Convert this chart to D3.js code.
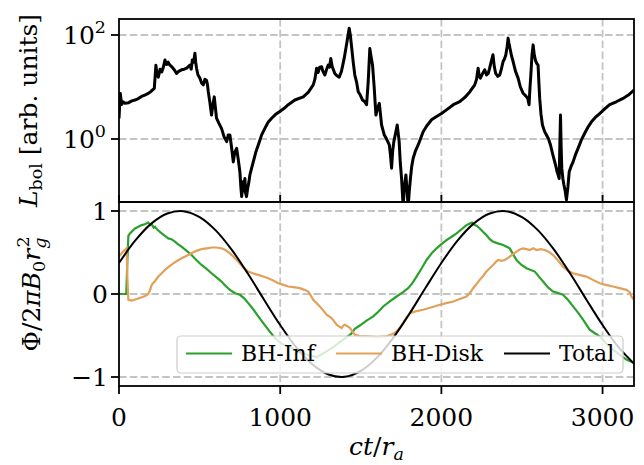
<!DOCTYPE html>
<html><head><meta charset="utf-8">
<script src="https://cdn.jsdelivr.net/npm/d3@7"></script>
<style>body{margin:0;background:#fff} svg text{font-family:"DejaVu Serif",serif;fill:#000}</style>
</head><body><svg id="c" width="644" height="465"></svg>
<script>
// ---- data ----
const lbolT = [0,8,16,25,37,60,80,99,120,140,160,182,200,219,229,236,244,255,265,275,285,295,305,316,330,345,357,370,388,405,420,440,448,455,463,471,476,481,490,502,512,523,533,543,549,554,564,574,582,591,598,605,620,636,652,668,678,688,698,709,718,730,740,750,756,761,770,776,781,786,791,800,806,812,822,833,848,864,885,905,925,947,970,998,1025,1050,1091,1143,1175,1205,1215,1226,1235,1245,1257,1265,1277,1288,1298,1306,1314,1322,1339,1352,1366,1380,1397,1416,1428,1435,1443,1453,1463,1475,1484,1497,1511,1525,1536,1546,1556,1563,1573,1583,1594,1605,1615,1622,1629,1646,1660,1677,1684,1691,1698,1705,1716,1726,1732,1738,1745,1753,1763,1770,1780,1788,1794,1801,1808,1816,1825,1840,1856,1870,1887,1910,1939,1970,2001,2040,2074,2114,2150,2177,2207,2218,2228,2235,2242,2255,2269,2280,2290,2298,2306,2320,2328,2337,2350,2362,2372,2383,2392,2400,2408,2414,2419,2424,2435,2445,2460,2476,2490,2507,2518,2528,2536,2544,2550,2555,2562,2569,2577,2586,2593,2600,2605,2610,2618,2627,2640,2652,2665,2677,2688,2697,2708,2718,2725,2731,2735,2739,2743,2747,2754,2760,2768,2776,2785,2793,2805,2817,2832,2848,2868,2889,2910,2931,2955,2982,3010,3044,3085,3127,3160,3195];
const lbolV = [2.5,7.5,4.6,5.2,4.85,5.0,5.4,5.62,6.0,6.6,7.0,7.55,8.3,9.44,26.3,17,15.5,22,19.5,24,33.1,27,30,26.3,24,21,18.2,20,21.4,22,23,26.3,22,33.1,30,44.7,30,22.9,17,14.8,12,11.0,14,13.5,11,8.13,5,2.88,4.5,6.46,4,2.51,2.0,1.60,1.1,0.89,1.2,1.19,0.7,0.363,0.55,0.66,0.4,0.234,0.12,0.078,0.15,0.1,0.174,0.09,0.078,0.12,0.15,0.204,0.27,0.363,0.55,0.767,1.2,1.60,2.1,2.51,2.95,3.39,3.9,4.57,5.62,6.46,8,11.0,14,22.9,19,24,24.5,20,17.0,22,26.3,24,35.5,25,18.2,16.5,15.5,20,35.5,79.4,135,100,58.9,30,17.0,12,8.13,7,5.62,5.2,4.57,12.6,55.0,40,26.3,10,2.88,4,4.85,3,1.86,1.19,1.0,0.767,0.5,0.275,0.6,0.89,1.3,1.86,1.3,0.89,0.35,0.174,0.05,0.12,0.204,0.09,0.05,0.1,0.174,0.3,0.427,0.6,0.767,1.0,1.38,1.8,2.34,2.7,3.09,3.8,4.57,5.25,6.5,8.13,11.0,14,22.9,16,14.8,18,21.4,17,18.2,22,28.2,41.7,25,18.2,16,17.0,22,30.9,35,41.7,60,87.1,70,58.9,40,30.9,20,14.8,10,7.59,7,6.46,6,4.57,10,17,40,64.6,40,30.9,28,26.3,12,6.03,3,1.86,1.4,1.19,1.0,0.767,0.55,0.427,0.32,0.234,0.2,0.174,0.8,2.88,0.7,0.275,0.17,0.132,0.1,0.068,0.12,0.234,0.3,0.363,0.5,0.66,0.95,1.29,1.7,2.14,2.6,3.09,3.7,4.57,5.2,6.03,7.0,8.71];

const infT = [0,45,52,58,68,99,141,160,182,195,203,215,223,240,265,285,306,325,347,365,388,420,450,480,512,545,574,605,636,660,688,720,750,775,802,835,864,895,926,967,1010,1060,1120,1180,1226,1280,1329,1370,1412,1440,1463,1494,1536,1577,1610,1639,1680,1722,1760,1794,1820,1846,1878,1908,1940,1970,2000,2032,2064,2094,2125,2156,2176,2190,2207,2220,2238,2258,2279,2300,2321,2350,2383,2405,2424,2445,2466,2497,2528,2555,2580,2605,2631,2662,2693,2725,2755,2785,2817,2850,2879,2920,2950,2982,3020,3065,3105,3148,3195];
const infV = [0,0,0.4,0.70,0.73,0.79,0.83,0.84,0.86,0.83,0.84,0.80,0.81,0.77,0.73,0.70,0.67,0.66,0.63,0.60,0.57,0.52,0.47,0.41,0.35,0.30,0.25,0.20,0.15,0.10,0.05,0.01,-0.01,-0.05,-0.11,-0.19,-0.27,-0.35,-0.43,-0.53,-0.60,-0.64,-0.70,-0.74,-0.76,-0.70,-0.64,-0.58,-0.52,-0.48,-0.42,-0.38,-0.32,-0.27,-0.21,-0.15,-0.09,-0.03,0.02,0.07,0.13,0.21,0.31,0.41,0.49,0.55,0.60,0.65,0.69,0.73,0.78,0.83,0.85,0.86,0.83,0.82,0.79,0.75,0.71,0.66,0.63,0.61,0.59,0.57,0.55,0.48,0.41,0.35,0.31,0.29,0.27,0.21,0.15,0.08,0.03,0.01,-0.01,-0.07,-0.15,-0.23,-0.31,-0.43,-0.47,-0.51,-0.59,-0.67,-0.73,-0.79,-0.83];

const diskT = [0,20,47,52,58,79,110,141,165,182,195,203,225,244,265,285,310,337,362,388,420,450,480,512,545,574,605,636,660,688,715,740,770,802,830,864,895,926,960,988,1020,1050,1091,1122,1150,1174,1190,1205,1226,1246,1268,1288,1319,1335,1350,1365,1381,1392,1402,1418,1433,1448,1463,1500,1536,1600,1660,1700,1722,1745,1763,1785,1804,1840,1887,1940,1991,2030,2074,2114,2156,2180,2197,2218,2238,2260,2279,2300,2321,2340,2352,2372,2393,2410,2424,2445,2466,2490,2507,2528,2548,2570,2590,2615,2641,2665,2693,2725,2755,2785,2817,2855,2899,2940,2982,3020,3065,3105,3148,3170,3179,3195];
const diskV = [0.45,0.50,0.55,0.2,-0.07,-0.08,-0.06,-0.04,-0.02,0.00,0.06,0.11,0.16,0.21,0.25,0.29,0.33,0.37,0.40,0.43,0.46,0.49,0.52,0.54,0.55,0.56,0.56,0.55,0.53,0.49,0.44,0.39,0.32,0.27,0.25,0.23,0.21,0.19,0.16,0.13,0.11,0.09,0.08,0.07,0.05,0.03,-0.02,-0.07,-0.11,-0.15,-0.20,-0.25,-0.29,-0.33,-0.37,-0.39,-0.41,-0.38,-0.37,-0.39,-0.41,-0.45,-0.49,-0.51,-0.51,-0.52,-0.51,-0.48,-0.45,-0.40,-0.35,-0.28,-0.23,-0.21,-0.19,-0.16,-0.13,-0.11,-0.09,-0.06,-0.03,0.02,0.07,0.12,0.17,0.22,0.27,0.31,0.35,0.39,0.41,0.40,0.41,0.43,0.45,0.48,0.51,0.54,0.55,0.54,0.53,0.55,0.53,0.54,0.53,0.51,0.47,0.40,0.33,0.28,0.25,0.23,0.21,0.17,0.13,0.11,0.09,0.07,0.05,0.02,-0.03,-0.07];

const totalT = [0,100,200,300,400,500,600,700,800,900,1000,1100,1200,1300,1400,1500,1600,1700,1800,1900,2000,2100,2200,2300,2400,2500,2600,2700,2800,2900,3000,3100,3200];
const totalV = [0.373,0.642,0.848,0.970,0.998,0.927,0.767,0.531,0.243,-0.069,-0.374,-0.643,-0.848,-0.970,-0.998,-0.927,-0.767,-0.531,-0.243,0.069,0.374,0.643,0.848,0.970,0.998,0.927,0.767,0.531,0.243,-0.069,-0.374,-0.643,-0.848];

const xTicks = [0,1000,2000,3000];
const topTicks = [{v:1,e:"0"},{v:100,e:"2"}];
const botTicks = [-1,0,1];
const botTickLabels = ["\u22121","0","1"];
const seriesNames = ["BH-Inf","BH-Disk","Total"];
const seriesColors = ["#2ca02c","#e2a05b","#000000"];

// ---- layout ----
const L=119,R=634,T1=19,B1=202,T2=202,B2=386;
const svg = d3.select("#c");
const x = d3.scaleLinear().domain([0,3195]).range([L,R]);
const yTop = d3.scaleLog().domain([Math.pow(10,-1.2115),Math.pow(10,2.3077)]).range([B1,T1]);
const yBot = d3.scaleLinear().domain([-1.1084,1.1084]).range([B2,T2]);

const defs = svg.append("defs");
defs.append("clipPath").attr("id","c1").append("rect").attr("x",L).attr("y",T1).attr("width",R-L).attr("height",B1-T1);
defs.append("clipPath").attr("id","c2").append("rect").attr("x",L).attr("y",T2).attr("width",R-L).attr("height",B2-T2);

const gridStyle = g => g.attr("stroke","#c4c4c4").attr("stroke-width",1.8).attr("stroke-dasharray","7.5,3.3").attr("fill","none");
// grids
const gg = svg.append("g");
xTicks.slice(1).forEach(t=>{
  gg.append("line").attr("x1",x(t)).attr("x2",x(t)).attr("y1",T1).attr("y2",B1).call(gridStyle);
  gg.append("line").attr("x1",x(t)).attr("x2",x(t)).attr("y1",T2).attr("y2",B2).call(gridStyle);
});
topTicks.forEach(d=>gg.append("line").attr("x1",L).attr("x2",R).attr("y1",yTop(d.v)).attr("y2",yTop(d.v)).call(gridStyle));
botTicks.forEach(v=>gg.append("line").attr("x1",L).attr("x2",R).attr("y1",yBot(v)).attr("y2",yBot(v)).call(gridStyle));

// top line
const topLine = d3.line().x((d,i)=>x(lbolT[i])).y(d=>yTop(d));
svg.append("path").attr("clip-path","url(#c1)").attr("d",topLine(lbolV))
  .attr("fill","none").attr("stroke","#000").attr("stroke-width",3).attr("stroke-linejoin","round");

// bottom lines
function mk(ts,vs,curve){return d3.line().curve(curve).x((d,i)=>x(ts[i])).y(d=>yBot(d))(vs);}
const g2 = svg.append("g").attr("clip-path","url(#c2)");
g2.append("path").attr("d",mk(infT,infV,d3.curveLinear)).attr("fill","none").attr("stroke",seriesColors[0]).attr("stroke-width",2.2);
g2.append("path").attr("d",mk(diskT,diskV,d3.curveLinear)).attr("fill","none").attr("stroke",seriesColors[1]).attr("stroke-width",2.2);
g2.append("path").attr("d",mk(totalT,totalV,d3.curveCatmullRom)).attr("fill","none").attr("stroke",seriesColors[2]).attr("stroke-width",2);

// spines
svg.append("rect").attr("x",L).attr("y",T1).attr("width",R-L).attr("height",B1-T1).attr("fill","none").attr("stroke","#000").attr("stroke-width",1.8);
svg.append("rect").attr("x",L).attr("y",T2).attr("width",R-L).attr("height",B2-T2).attr("fill","none").attr("stroke","#000").attr("stroke-width",1.8);

// ticks
const tk = svg.append("g").attr("stroke","#000").attr("stroke-width",1.8);
const FS = 25;
topTicks.forEach(d=>{
  const yy=yTop(d.v);
  tk.append("line").attr("x1",L-8).attr("x2",L).attr("y1",yy).attr("y2",yy);
  const t = svg.append("text").attr("x",L-13).attr("y",yy+9).attr("text-anchor","end").attr("font-size",FS);
  t.append("tspan").text("10");
  t.append("tspan").attr("font-size",FS*0.7).attr("dy",-11).text(d.e);
});
botTicks.forEach((v,i)=>{
  const yy=yBot(v);
  tk.append("line").attr("x1",L-8).attr("x2",L).attr("y1",yy).attr("y2",yy);
  svg.append("text").attr("x",L-11).attr("y",yy+9).attr("text-anchor","end").attr("font-size",FS).text(botTickLabels[i]);
});
xTicks.forEach(t=>{
  tk.append("line").attr("x1",x(t)).attr("x2",x(t)).attr("y1",B2).attr("y2",B2+8);
  tk.append("line").attr("x1",x(t)).attr("x2",x(t)).attr("y1",B1-7).attr("y2",B1);
  svg.append("text").attr("x",x(t)).attr("y",426).attr("text-anchor","middle").attr("font-size",FS).text(t);
});

// axis labels
const xl = svg.append("text").attr("x",(L+R)/2).attr("y",455).attr("text-anchor","middle").attr("font-size",FS);
xl.append("tspan").attr("font-style","italic").text("ct");
xl.append("tspan").text("/");
xl.append("tspan").attr("font-style","italic").text("r");
xl.append("tspan").attr("font-style","italic").attr("font-size",FS*0.7).attr("dy",5).text("a");

const yl1 = svg.append("text").attr("transform",`translate(37,${(T1+B1)/2}) rotate(-90)`).attr("text-anchor","middle").attr("font-size",FS);
yl1.append("tspan").attr("font-style","italic").text("L");
yl1.append("tspan").attr("font-size",FS*0.7).attr("dy",5).text("bol");
yl1.append("tspan").attr("dy",-5).text(" [arb. units]");

const yl2 = svg.append("text").attr("transform",`translate(40,${(T2+B2)/2}) rotate(-90)`).attr("text-anchor","middle").attr("font-size",FS);
yl2.append("tspan").text("\u03A6/2");
yl2.append("tspan").attr("font-style","italic").text("\u03C0B");
yl2.append("tspan").attr("font-size",FS*0.7).attr("dy",5).text("0");
yl2.append("tspan").attr("font-style","italic").attr("dy",-5).text("r");
yl2.append("tspan").attr("font-style","italic").attr("font-size",FS*0.7).attr("dy",6).text("g");
yl2.append("tspan").attr("font-size",FS*0.7).attr("dx",-10).attr("dy",-17).text("2");

// legend
const lg = svg.append("g");
lg.append("rect").attr("x",177).attr("y",336).attr("width",446).attr("height",37).attr("rx",4)
  .attr("fill","#fff").attr("fill-opacity",0.8).attr("stroke","#cccccc").attr("stroke-width",1.2);
const lx = [186,336,504];
seriesNames.forEach((n,i)=>{
  lg.append("line").attr("x1",lx[i]).attr("x2",lx[i]+46).attr("y1",353.5).attr("y2",353.5).attr("stroke",seriesColors[i]).attr("stroke-width",2.2);
  lg.append("text").attr("x",lx[i]+55).attr("y",361).attr("font-size",22).text(n);
});
</script></body></html>
